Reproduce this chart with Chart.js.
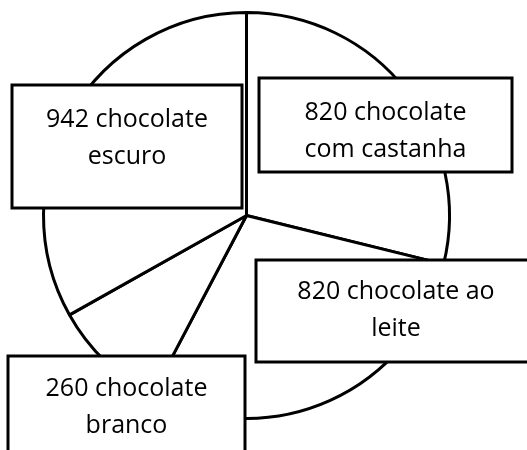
<!DOCTYPE html>
<html>
<head>
<meta charset="utf-8">
<script src="https://cdn.jsdelivr.net/npm/chart.js@4"></script>
<style>
  body { margin: 0; background: #fff; }
  canvas { display: block; }
</style>
</head>
<body>
<canvas id="myChart" width="527" height="450"></canvas>
<script>
// slices, clockwise from the top
var categories = [
  ["chocolate", "com castanha"],
  ["chocolate ao", "leite"],
  ["chocolate", "branco"],
  ["chocolate", "escuro"]
];
var values = [820, 820, 260, 942];

// label boxes for each slice (x, y, w, h)
var boxes = [
  [259, 78, 253, 94],
  [256, 260, 280, 102],
  [8, 356, 237, 110],
  [12, 85, 230, 123]
];
var textOffset = [6, -1, -4, -9];

var labelBoxes = {
  id: "labelBoxes",
  afterDraw: function (chart) {
    var ctx = chart.ctx;
    ctx.save();
    ctx.lineWidth = 3;
    ctx.strokeStyle = "#000";
    ctx.font = "25px 'Open Sans', sans-serif";
    ctx.textAlign = "center";
    ctx.textBaseline = "middle";
    chart.data.labels.forEach(function (lab, i) {
      var b = boxes[i];
      ctx.fillStyle = "#fff";
      ctx.fillRect(b[0], b[1], b[2], b[3]);
      ctx.strokeRect(b[0], b[1], b[2], b[3]);
      var cx = b[0] + b[2] / 2;
      var cy = b[1] + b[3] / 2 + textOffset[i];
      var lines = [values[i] + " " + lab[0], lab[1]];
      ctx.fillStyle = "#000";
      ctx.fillText(lines[0], cx, cy - 18);
      ctx.fillText(lines[1], cx, cy + 19);
    });
    ctx.restore();
  }
};

var chart = new Chart(document.getElementById("myChart"), {
  type: "pie",
  data: {
    labels: categories,
    datasets: [
      {
        data: values,
        backgroundColor: "#fff",
        borderColor: "#000",
        borderWidth: 3
      }
    ]
  },
  options: {
    responsive: false,
    animation: false,
    layout: { padding: { left: 36, right: 70, top: 11, bottom: 30 } },
    plugins: {
      legend: { display: false },
      tooltip: { enabled: false }
    }
  },
  plugins: [labelBoxes]
});
</script>
</body>
</html>
